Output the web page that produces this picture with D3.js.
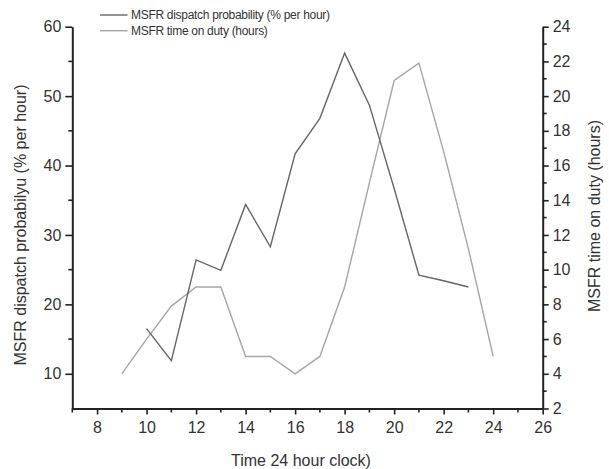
<!DOCTYPE html>
<html>
<head>
<meta charset="utf-8">
<script src="https://cdn.jsdelivr.net/npm/d3@7"></script>
<style>
  body { margin: 0; background: #fff; }
  text { font-family: "Liberation Sans", Arial, sans-serif; fill: #333; }
</style>
</head>
<body>
<script>
'use strict';

// hours of the day for each series
const dispatchHours = [10, 11, 12, 13, 14, 15, 16, 17, 18, 19, 20, 21, 22, 23];
const dispatchValues = [16.5, 11.9, 26.4, 24.9, 34.4, 28.3, 41.7, 46.8, 56.2, 48.7, 36.7, 24.2, 23.4, 22.5];

const dutyHours = [9, 10, 11, 12, 13, 14, 15, 16, 17, 18, 19, 20, 21, 22, 23, 24];
const dutyValues = [4, 6, 7.9, 9, 9, 5, 5, 4, 5, 9, 15, 20.9, 21.9, 16.8, 11.2, 5];

const xTicks = [8, 10, 12, 14, 16, 18, 20, 22, 24, 26];
const leftTicks = [10, 20, 30, 40, 50, 60];
const rightTicks = [2, 4, 6, 8, 10, 12, 14, 16, 18, 20, 22, 24];

const seriesNames = ["MSFR dispatch probability (% per hour)", "MSFR time on duty (hours)"];

const width = 609, height = 469;
const margin = { left: 72.3, right: 66.3, top: 26.7, bottom: 60.5 };

let svg = d3.select('body')
  .append('svg')
  .attr('width', width)
  .attr('height', height);

let x = d3.scaleLinear().domain([7, 26]).range([margin.left, width - margin.right]);
let yLeft = d3.scaleLinear().domain([5, 60]).range([height - margin.bottom, margin.top]);
let yRight = d3.scaleLinear().domain([2, 24]).range([height - margin.bottom, margin.top]);

// style one axis the Origin way: thick line, outward ticks
function drawAxis(axis, translate) {
  let g = svg.append('g').attr('transform', translate);
  g.call(axis.tickSizeOuter(0));
  g.select('.domain').attr('stroke', '#222').attr('stroke-width', 2);
  g.selectAll('.tick line').attr('stroke', '#222').attr('stroke-width', 1.6);
  g.selectAll('.tick text').style('font-size', '16px').attr('fill', '#333');
  return g;
}

// minor ticks go in between the labelled ones
function drawMinor(scale, values, orient, pos) {
  svg.append('g')
    .selectAll('line')
    .data(values)
    .enter()
    .append('line')
      .attr('x1', d => orient == 'h' ? scale(d) : pos)
      .attr('x2', d => orient == 'h' ? scale(d) : pos + (orient == 'l' ? -4 : 4))
      .attr('y1', d => orient == 'h' ? pos : scale(d))
      .attr('y2', d => orient == 'h' ? pos + 4 : scale(d))
      .attr('stroke', '#222')
      .attr('stroke-width', 1.6);
}

let bottom = height - margin.bottom;
let right = width - margin.right;

drawAxis(d3.axisBottom(x).tickValues(xTicks).tickSize(6).tickPadding(7), `translate(0,${bottom})`);
drawMinor(x, d3.range(7, 26, 2), 'h', bottom);

drawAxis(d3.axisLeft(yLeft).tickValues(leftTicks).tickSize(7).tickPadding(4), `translate(${margin.left},0)`);
drawMinor(yLeft, [15, 25, 35, 45, 55], 'l', margin.left);

drawAxis(d3.axisRight(yRight).tickValues(rightTicks).tickSize(6).tickPadding(4), `translate(${right},0)`);
drawMinor(yRight, d3.range(3, 24, 2), 'r', right);

// the two series
const colors = ['#666666', '#a6a6a6'];

let dispatchLine = d3.line()
  .x((d, i) => x(dispatchHours[i]))
  .y(d => yLeft(d));

let dutyLine = d3.line()
  .x((d, i) => x(dutyHours[i]))
  .y(d => yRight(d));

svg.append('path')
  .attr('d', dutyLine(dutyValues))
  .attr('fill', 'none')
  .attr('stroke', colors[1])
  .attr('stroke-width', 1.4);

svg.append('path')
  .attr('d', dispatchLine(dispatchValues))
  .attr('fill', 'none')
  .attr('stroke', colors[0])
  .attr('stroke-width', 1.4);

// legend
seriesNames.forEach((name, i) => {
  let ly = 15 + i * 15.7;
  svg.append('line')
    .attr('x1', 100).attr('x2', 127.5)
    .attr('y1', ly).attr('y2', ly)
    .attr('stroke', colors[i])
    .attr('stroke-width', 1.4);
  svg.append('text')
    .attr('x', 131)
    .attr('y', ly + 4.3)
    .style('font-size', '12px')
    .style('letter-spacing', '-0.3px')
    .text(name);
});

// axis titles
svg.append('text')
  .attr('x', 301)
  .attr('y', 466)
  .attr('text-anchor', 'middle')
  .style('font-size', '16px')
  .text('Time 24 hour clock)');

svg.append('text')
  .attr('transform', 'translate(26, 225)rotate(-90)')
  .attr('text-anchor', 'middle')
  .style('font-size', '16px')
  .text('MSFR dispatch probabilyu (% per hour)');

svg.append('text')
  .attr('transform', 'translate(600, 216)rotate(-90)')
  .attr('text-anchor', 'middle')
  .style('font-size', '16px')
  .text('MSFR time on duty (hours)');
</script>
</body>
</html>
